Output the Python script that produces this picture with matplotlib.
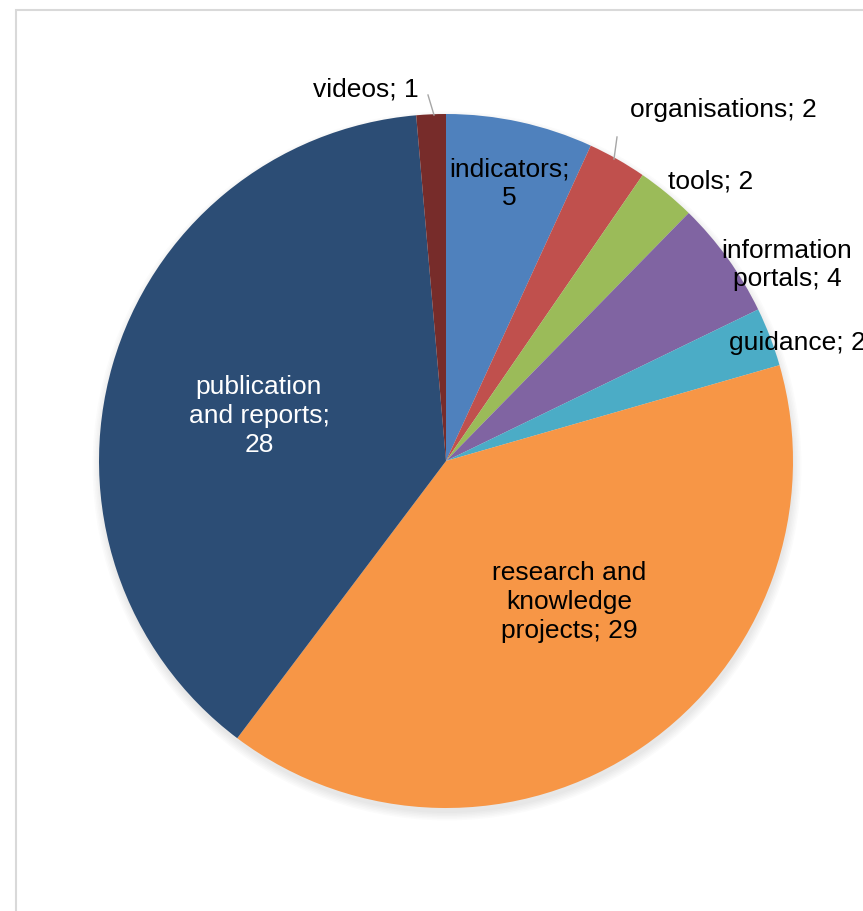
import numpy as np
import matplotlib.pyplot as plt
from matplotlib.patches import Circle, Rectangle

# data
categories = ['indicators', 'organisations', 'tools', 'information\nportals',
              'guidance', 'research and\nknowledge\nprojects',
              'publication\nand reports;\n28', 'videos']
values = [5, 2, 2, 4, 2, 29, 28, 1]
colors = ['#4F81BD', '#C0504D', '#9BBB59', '#8064A2', '#4BACC6',
          '#F79646', '#2C4D75', '#772C2A']

plt.rcParams['font.family'] = ['Liberation Sans', 'DejaVu Sans']

fig = plt.figure(figsize=(8.63, 9.12), dpi=100)
ax = fig.add_axes([0, 0, 1, 1])

cx, cy, r = 446, 912 - 462, 347

# soft shadow
for i in range(6):
    ax.add_patch(Circle((cx + 1, cy - 5), r + i * 1.5, color='black',
                        alpha=0.014, linewidth=0, zorder=1))

wedges, _ = ax.pie(values, colors=colors, startangle=90, counterclock=False,
                   center=(cx, cy), radius=r, frame=True,
                   wedgeprops=dict(linewidth=0, zorder=2))
ax.set_xlim(0, 863)
ax.set_ylim(0, 912)
ax.set_aspect('equal')
ax.axis('off')

# chart frame
ax.add_patch(Rectangle((16, -10), 900, 912 - 11 + 10, fill=False,
                       edgecolor='#D9D9D9', linewidth=1.5))

fs = 19
ls = 1.24
# labels
ax.text(419, 912 - 89, 'videos; 1', ha='right', va='center', fontsize=fs)
ax.plot([428, 434], [912 - 96, 912 - 116], color='#A6A6A6', lw=1, zorder=3)
ax.text(630, 912 - 110, 'organisations; 2', ha='left', va='center', fontsize=fs)
ax.plot([617, 614], [912 - 138, 912 - 160], color='#A6A6A6', lw=1, zorder=3)
ax.text(668, 912 - 181, 'tools; 2', ha='left', va='center', fontsize=fs)
ax.text(787, 912 - 265, 'information\nportals; 4', ha='center', va='center',
        fontsize=fs, linespacing=ls, zorder=4)
ax.text(729, 912 - 343, 'guidance; 2', ha='left', va='center', fontsize=fs, zorder=4)
ax.text(509, 912 - 184, 'indicators;\n5', ha='center', va='center',
        fontsize=fs, linespacing=ls, zorder=4)
ax.text(259, 912 - 416, 'publication\nand reports;\n28', ha='center', va='center',
        fontsize=fs, color='white', linespacing=ls, zorder=4)
ax.text(569, 912 - 602, 'research and\nknowledge\nprojects; 29', ha='center',
        va='center', fontsize=fs, linespacing=ls, zorder=4)

fig.savefig('out.png', dpi=100)
